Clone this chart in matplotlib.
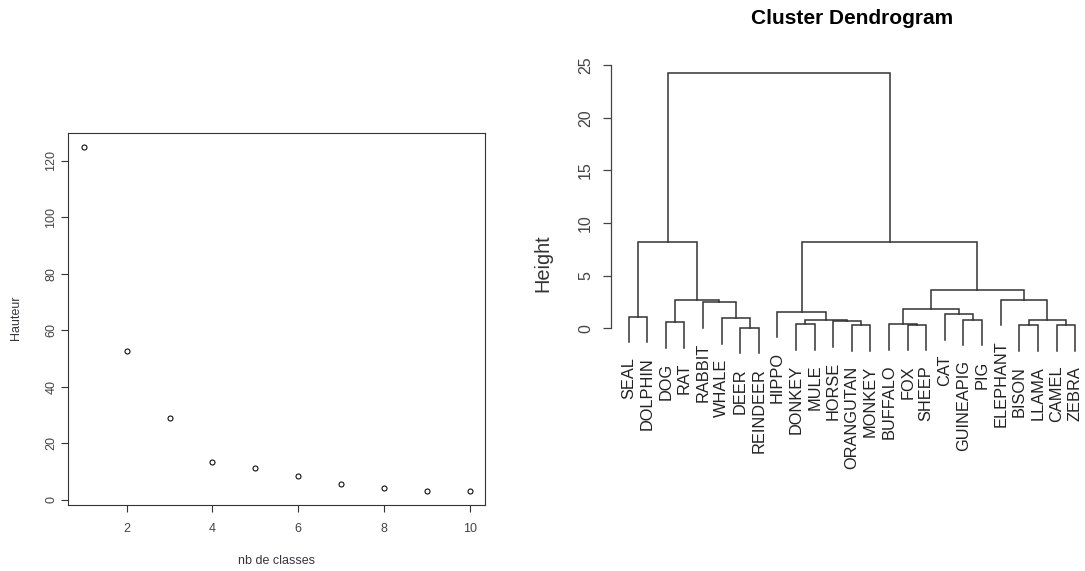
import matplotlib
matplotlib.use("Agg")
import matplotlib.pyplot as plt

plt.rcParams['font.family'] = ['Liberation Sans', 'DejaVu Sans']

# Left panel: height against number of classes
nb_classes = [1, 2, 3, 4, 5, 6, 7, 8, 9, 10]
hauteur = [124.9, 52.6, 29.1, 13.2, 11.3, 8.25, 5.66, 4.2, 3.1, 3.0]

# Right panel: dendrogram (leaf order and R-style merge list)
leaves = ["SEAL", "DOLPHIN", "DOG", "RAT", "RABBIT", "WHALE", "DEER", "REINDEER",
          "HIPPO", "DONKEY", "MULE", "HORSE", "ORANGUTAN", "MONKEY", "BUFFALO",
          "FOX", "SHEEP", "CAT", "GUINEAPIG", "PIG", "ELEPHANT", "BISON", "LLAMA",
          "CAMEL", "ZEBRA"]
# negative = leaf number, positive = earlier merge number
merge_a = [-7, -13, -22, -24, -16, -10, -15, -3, -12, 6, -19, 3, -6, -1, -18, -9,
           7, -5, -21, 8, 17, 14, 16, 22]
merge_b = [-8, -14, -23, -25, -17, -11, 5, -4, 2, 9, -20, 4, 1, -2, 11, 10,
           15, 13, 12, 18, 19, 20, 21, 23]
merge_h = [0.06, 0.28, 0.28, 0.28, 0.35, 0.38, 0.40, 0.57, 0.69, 0.74, 0.79, 0.79,
           0.95, 1.10, 1.33, 1.58, 1.80, 2.47, 2.69, 2.69, 3.64, 8.22, 8.24, 24.2]

W, H = 1085, 571
fig = plt.figure(figsize=(W / 100, H / 100), dpi=100)
dark = '#333333'

def px_axes(x0, y0, x1, y1):
    return fig.add_axes([x0 / W, 1 - y1 / H, (x1 - x0) / W, (y1 - y0) / H])

# ---- left plot ----
ax1 = px_axes(68.3, 133.3, 485.3, 505)
ax1.plot(nb_classes, hauteur, 'o', mfc='none', mec='black', ms=3.6, mew=0.75)
ax1.set_xlim(0.64, 10.36)
ax1.set_ylim(-1.88, 129.8)
ax1.set_xticks([2, 4, 6, 8, 10])
ax1.set_yticks([0, 20, 40, 60, 80, 100, 120])
for s in ax1.spines.values():
    s.set_color(dark)
    s.set_linewidth(0.8)
ax1.tick_params(axis='both', direction='out', length=5, width=0.8, color=dark,
                labelsize=9, labelcolor='#444444')
ax1.tick_params(axis='x', pad=8)
ax1.tick_params(axis='y', pad=3)
for lab in ax1.get_yticklabels():
    lab.set_rotation(90)
    lab.set_va('center')
fig.text(276.8 / W, 1 - 561 / H, "nb de classes", ha='center', va='center',
         fontsize=9, color='#3a3340')
fig.text(16 / W, 1 - 318 / H, "Hauteur", ha='center', va='center', rotation=90,
         fontsize=9, color='#3a3340')

# ---- dendrogram ----
ax2 = px_axes(610.7, 62.3, 1093, 364.3)
ax2.set_xlim(0.04, 25.96)
ax2.set_ylim(-3.42, 25.26)
hang = 0.1 * max(merge_h)
node_x = {}
leaf_bottom = {}

def child(c, h):
    if c < 0:
        leaf_bottom[-c] = h - hang
        return -c, h - hang
    return node_x[c], merge_h[c - 1]

for k in range(len(merge_h)):
    h = merge_h[k]
    xa, ya = child(merge_a[k], h)
    xb, yb = child(merge_b[k], h)
    ax2.plot([xa, xa, xb, xb], [ya, h, h, yb], color='#333333', lw=1.1,
             solid_joinstyle='miter', clip_on=False)
    node_x[k + 1] = (xa + xb) / 2

for i, name in enumerate(leaves, start=1):
    ax2.annotate(name, xy=(i, leaf_bottom[i]), xytext=(0, -15),
                 textcoords='offset pixels', rotation=90, ha='center', va='top',
                 fontsize=11.8, color='#222222', annotation_clip=False)

for side in ['top', 'right', 'bottom']:
    ax2.spines[side].set_visible(False)
ax2.spines['left'].set_bounds(0, 25)
ax2.spines['left'].set_color('#444444')
ax2.spines['left'].set_linewidth(0.9)
ax2.set_xticks([])
ax2.set_yticks([0, 5, 10, 15, 20, 25])
ax2.tick_params(axis='y', direction='out', length=5.8, width=0.9, color='#444444',
                labelsize=11.5, labelcolor='#444444', pad=7)
for lab in ax2.get_yticklabels():
    lab.set_rotation(90)
    lab.set_va('center')
fig.text(852 / W, 1 - 18 / H, "Cluster Dendrogram", ha='center', va='center',
         fontsize=15, fontweight='bold', color='black')
fig.text(543.3 / W, 1 - 263 / H, "Height", ha='center', va='center', rotation=90,
         fontsize=14.4, color='#333333')

fig.savefig("out.png", dpi=100)
